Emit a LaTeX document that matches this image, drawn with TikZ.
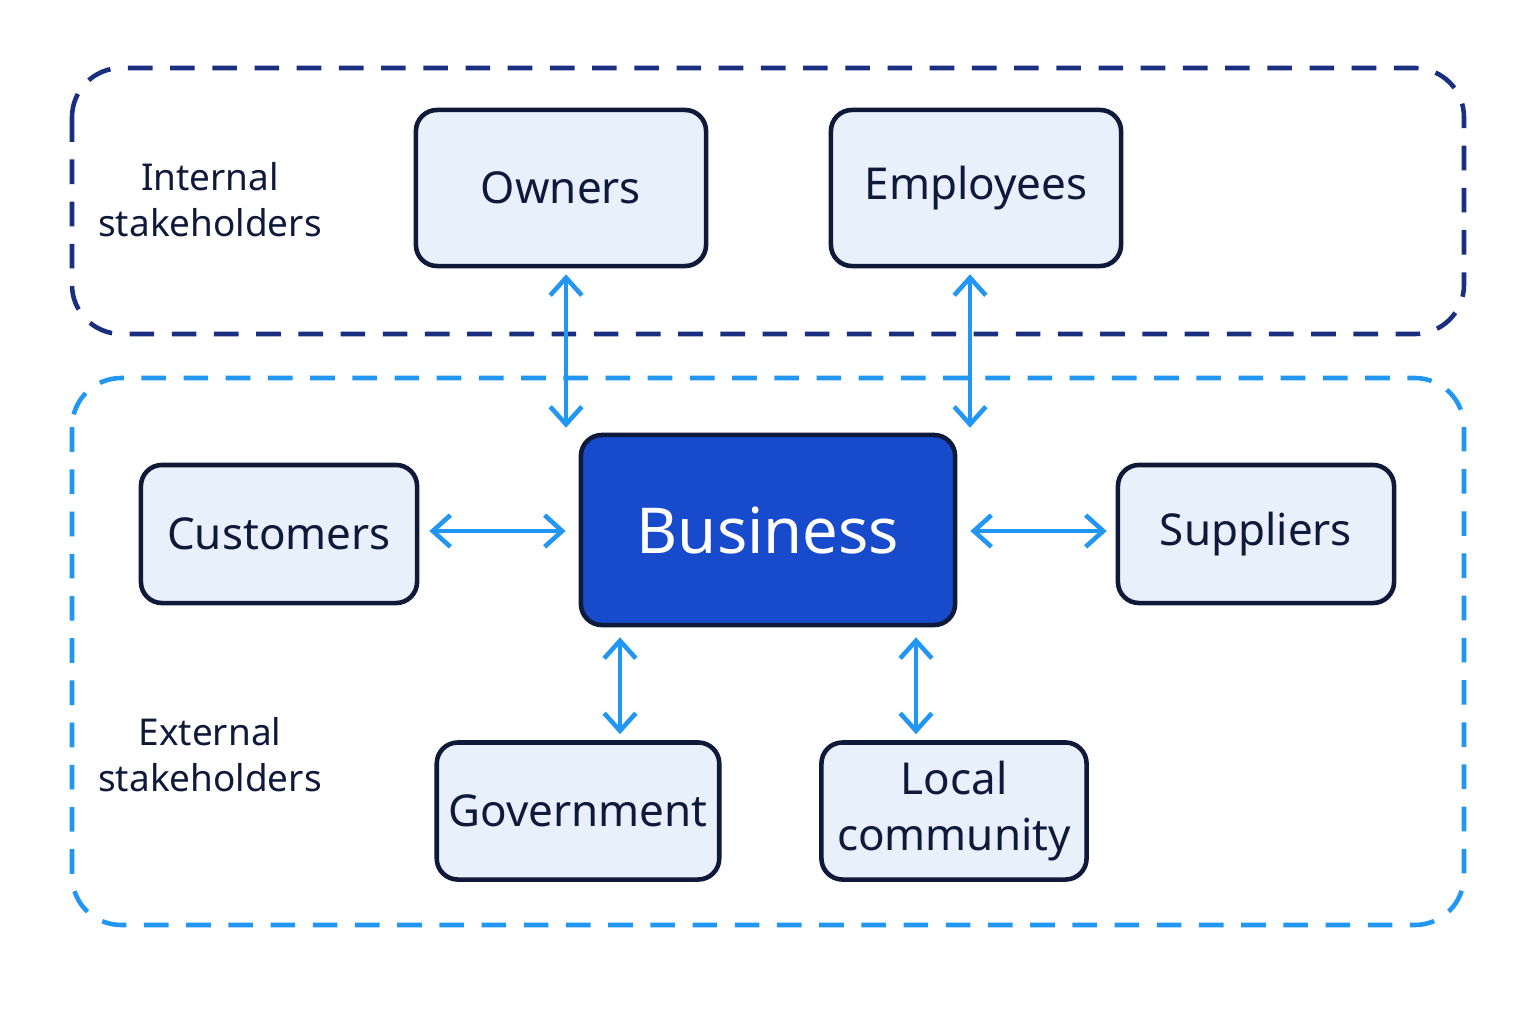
\documentclass[tikz,border=0pt]{standalone}
\usepackage{fontspec}
\setmainfont{Noto Sans}
\usetikzlibrary{calc,arrows.meta}
\definecolor{navy}{HTML}{1A2F80}
\definecolor{sky}{HTML}{2196F3}
\definecolor{boxfill}{HTML}{E8F0FC}
\definecolor{ink}{HTML}{0F1A3A}
\definecolor{bizblue}{HTML}{174BCC}
\tikzset{
  party/.style={draw=ink,line width=1.3pt,fill=boxfill,rounded corners=6pt,
    font=\fontsize{12.5}{14}\selectfont\bfseries,text=ink,align=center},
  link/.style={draw=sky,line width=1.3pt,{Straight Barb[length=5pt,width=9pt]}-{Straight Barb[length=5pt,width=9pt]}},
  group/.style={line width=1.3pt,dash pattern=on 7pt off 5pt,rounded corners=14pt},
  grouplabel/.style={font=\fontsize{10.5}{13}\selectfont,text=ink,align=center}
}
\begin{document}
\begin{tikzpicture}[x=0.01cm,y=-0.01cm]
  \useasboundingbox[fill=white] (0,0) rectangle (1536,1024);
  \draw[group,navy] (72,68) rectangle (1464,334);
  \draw[group,sky] (72,378) rectangle (1464,925);
  \node[grouplabel] (intl) at (210,200) {Internal\\stakeholders};
  \node[grouplabel] (extl) at (210,755) {External\\stakeholders};
  % stakeholders
  \node[party,minimum width=2.9cm,minimum height=1.56cm] (own) at (561,188) {Owners};
  \node[party,minimum width=2.9cm,minimum height=1.56cm] (emp) at (976,188) {Employees};
  \node[party,minimum width=2.76cm,minimum height=1.38cm] (cus) at (279,534) {Customers};
  \node[party,minimum width=2.76cm,minimum height=1.38cm] (sup) at (1256,534) {Suppliers};
  \node[party,minimum width=2.71cm,minimum height=1.37cm] (gov) at (578,811) {Government};
  \node[party,minimum width=2.65cm,minimum height=1.37cm,font=\fontsize{12.5}{16}\selectfont\bfseries] (loc) at (954,811) {Local\\community};
  \node[party,fill=bizblue,text=white,minimum width=3.74cm,minimum height=1.9cm,
    font=\fontsize{18}{20}\selectfont\bfseries] (biz) at (768,530) {Business};
  % connectors
  \draw[link] ($(own.south)+(5,6)$) -- ($(biz.north)+(-202,-5)$);
  \draw[link] ($(emp.south)+(-6,6)$) -- ($(biz.north)+(202,-5)$);
  \draw[link] ($(cus.east)+(10,-3)$) -- ($(biz.west)+(-13,1)$);
  \draw[link] ($(biz.east)+(13,1)$) -- ($(sup.west)+(-9,-3)$);
  \draw[link] ($(biz.south)+(-148,10)$) -- ($(gov.north)+(42,-6)$);
  \draw[link] ($(biz.south)+(148,10)$) -- ($(loc.north)+(-38,-6)$);
\end{tikzpicture}
\end{document}
